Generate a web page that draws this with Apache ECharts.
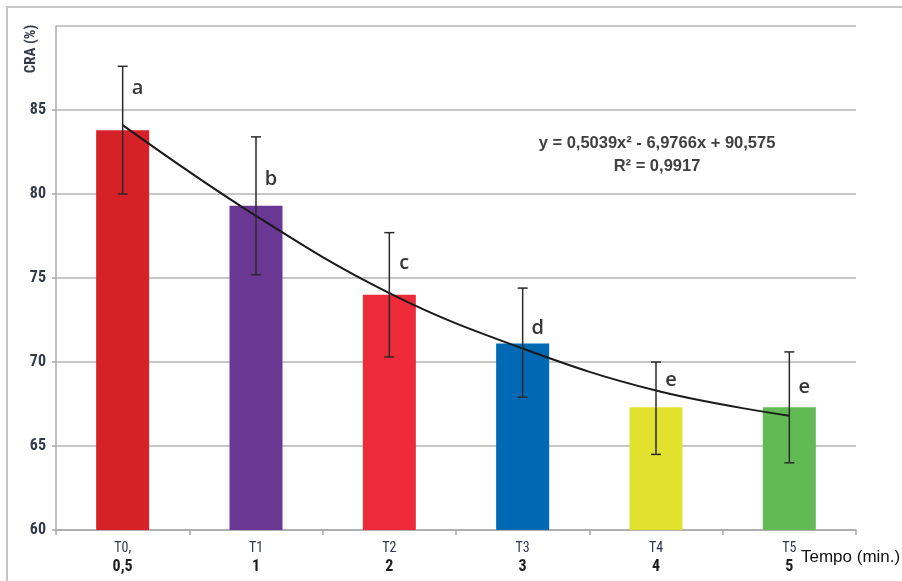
<!DOCTYPE html>
<html>
<head>
<meta charset="utf-8">
<script src="https://cdn.jsdelivr.net/npm/echarts@6/dist/echarts.min.js"></script>
<style>
  html, body { margin: 0; padding: 0; background: #fff; }
</style>
</head>
<body>
<div id="chart" style="width: 902px; height: 581px;"></div>
<script>
// data
const treatments = ['T0,', 'T1', 'T2', 'T3', 'T4', 'T5'];
const times = ['0,5', '1', '2', '3', '4', '5'];
const craValues = [83.8, 79.3, 74.0, 71.1, 67.3, 67.3];
const errHigh = [87.6, 83.4, 77.7, 74.4, 70.0, 70.6];
const errLow = [80.0, 75.2, 70.3, 67.9, 64.5, 64.0];
const trendValues = [84.1, 78.7, 74.1, 70.8, 68.3, 66.8];
const letters = ['a', 'b', 'c', 'd', 'e', 'e'];
const letterValues = [86.3, 80.9, 75.9, 72.0, 68.9, 68.5];
const barColors = ['#d62129', '#6a3795', '#ec2a3a', '#0069b4', '#e2e22e', '#62ba55'];

const narrow = '"Liberation Sans Narrow", "Roboto Condensed", "Liberation Sans", sans-serif';
const plain = '"Liberation Sans", Arial, sans-serif';

const chart = echarts.init(document.getElementById('chart'));

const option = {
  animation: false,
  backgroundColor: '#fff',
  grid: {
    left: 56,
    right: 46,
    top: 26,
    bottom: 51
  },
  graphic: [
    {
      type: 'rect',
      shape: { x: 7, y: 7, width: 1000, height: 1000 },
      style: { fill: 'none', stroke: '#c6c6c6', lineWidth: 2 }
    },
    {
      type: 'text',
      x: 31,
      y: 49,
      rotation: Math.PI / 2,
      style: {
        text: 'CRA (%)',
        fill: '#333a4a',
        font: 'bold 15px ' + narrow,
        align: 'center',
        verticalAlign: 'middle'
      }
    },
    {
      type: 'text',
      x: 657,
      y: 143,
      style: {
        text: 'y = 0,5039x² - 6,9766x + 90,575',
        fill: '#404040',
        font: 'bold 16.5px ' + plain,
        align: 'center',
        verticalAlign: 'middle'
      }
    },
    {
      type: 'text',
      x: 657,
      y: 166,
      style: {
        text: 'R² = 0,9917',
        fill: '#404040',
        font: 'bold 16.5px ' + plain,
        align: 'center',
        verticalAlign: 'middle'
      }
    },
    {
      type: 'text',
      x: 801,
      y: 557,
      style: {
        text: 'Tempo (min.)',
        fill: '#111',
        font: '17px ' + plain,
        align: 'left',
        verticalAlign: 'middle'
      }
    }
  ],
  xAxis: {
    type: 'category',
    data: treatments,
    axisLine: { lineStyle: { color: '#a8a8a8', width: 1.5 } },
    axisTick: { show: true, length: 5, lineStyle: { color: '#a8a8a8', width: 1.5 } },
    axisLabel: {
      margin: 9,
      formatter: function (value, idx) {
        return '{t|' + value + '}\n{v|' + times[idx] + '}';
      },
      rich: {
        t: {
          fontFamily: narrow,
          fontSize: 14,
          color: '#2f3550',
          lineHeight: 18
        },
        v: {
          fontFamily: narrow,
          fontSize: 16,
          fontWeight: 'bold',
          color: '#1e1e1e',
          lineHeight: 20
        }
      }
    }
  },
  yAxis: {
    type: 'value',
    min: 60,
    max: 90,
    interval: 5,
    axisLine: { show: true, lineStyle: { color: '#a8a8a8', width: 1.5 } },
    axisTick: { show: true, length: 4, lineStyle: { color: '#a8a8a8', width: 1.5 } },
    splitLine: { lineStyle: { color: '#b4b4b4', width: 1.5 } },
    axisLabel: {
      showMaxLabel: false,
      margin: 10,
      color: '#333a4a',
      fontSize: 16,
      fontWeight: 'bold',
      fontFamily: narrow
    }
  },
  series: [
    {
      name: 'CRA',
      type: 'bar',
      barWidth: 53,
      data: craValues.map((v, i) => ({ value: v, itemStyle: { color: barColors[i] } })),
      z: 2
    },
    {
      name: 'Tendência',
      type: 'line',
      data: trendValues,
      smooth: 0.4,
      symbol: 'none',
      lineStyle: { color: '#1a1a1a', width: 2 },
      z: 3
    },
    {
      name: 'Erro',
      type: 'custom',
      data: treatments.map((t, i) => [i, errHigh[i], errLow[i]]),
      renderItem: function (params, api) {
        const hi = api.coord([api.value(0), api.value(1)]);
        const lo = api.coord([api.value(0), api.value(2)]);
        const cap = 5;
        const style = { stroke: '#2a2a2a', lineWidth: 1.5 };
        return {
          type: 'group',
          children: [
            { type: 'line', shape: { x1: hi[0], y1: hi[1], x2: lo[0], y2: lo[1] }, style: style },
            { type: 'line', shape: { x1: hi[0] - cap, y1: hi[1], x2: hi[0] + cap, y2: hi[1] }, style: style },
            { type: 'line', shape: { x1: lo[0] - cap, y1: lo[1], x2: lo[0] + cap, y2: lo[1] }, style: style }
          ]
        };
      },
      z: 4
    },
    {
      name: 'Letras',
      type: 'custom',
      data: treatments.map((t, i) => [i, letterValues[i]]),
      renderItem: function (params, api) {
        const p = api.coord([api.value(0), api.value(1)]);
        return {
          type: 'text',
          x: p[0] + 15,
          y: p[1],
          style: {
            text: letters[params.dataIndex],
            fill: '#363636',
            font: '600 20px "Open Sans", "Liberation Sans", sans-serif',
            align: 'center',
            verticalAlign: 'middle'
          }
        };
      },
      z: 5
    }
  ]
};

chart.setOption(option);
</script>
</body>
</html>
